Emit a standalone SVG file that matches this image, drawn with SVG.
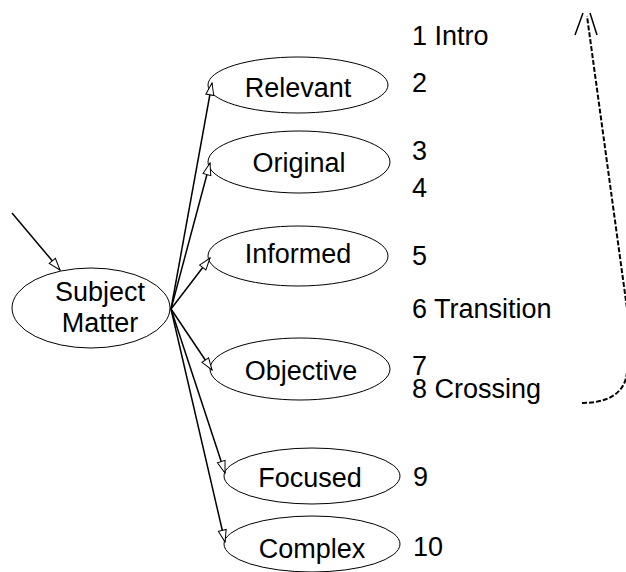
<svg xmlns="http://www.w3.org/2000/svg" width="626" height="572" viewBox="0 0 626 572">
<style>
.node ellipse{fill:#fff;stroke:#000;stroke-width:1}
text{font-family:"Liberation Sans",Arial,sans-serif;font-size:27px;fill:#000}
.c{text-anchor:middle}
.conn line{stroke:#000;stroke-width:1.5;marker-end:url(#ah)}
</style>
<defs>
<marker id="ah" markerUnits="userSpaceOnUse" markerWidth="14" markerHeight="10" refX="13" refY="5" orient="auto">
<path d="M1,1 L13,5 L1,9 Z" fill="#fff" stroke="#000" stroke-width="1"/>
</marker>
</defs>
<g id="subject" class="node"><ellipse cx="91" cy="308" rx="79" ry="40"/><text class="c" x="100" y="301">Subject</text><text class="c" x="100" y="332">Matter</text></g>
<g id="relevant" class="node"><ellipse cx="298" cy="85" rx="90" ry="28"/><text class="c" x="298" y="97">Relevant</text></g>
<g id="original" class="node"><ellipse cx="299" cy="162" rx="91" ry="31"/><text class="c" x="299" y="172">Original</text></g>
<g id="informed" class="node"><ellipse cx="298" cy="256" rx="90" ry="30"/><text class="c" x="298" y="263">Informed</text></g>
<g id="objective" class="node"><ellipse cx="300" cy="369" rx="90" ry="31"/><text class="c" x="301" y="380">Objective</text></g>
<g id="focused" class="node"><ellipse cx="312" cy="476" rx="88" ry="28"/><text class="c" x="310" y="487">Focused</text></g>
<g id="complex" class="node"><ellipse cx="312" cy="544" rx="88" ry="28"/><text class="c" x="312" y="558">Complex</text></g>
<g id="labels">
<text x="412" y="45">1 Intro</text>
<text x="412" y="92">2</text>
<text x="412" y="160">3</text>
<text x="412" y="197">4</text>
<text x="412" y="265">5</text>
<text x="412" y="318">6 Transition</text>
<text x="412" y="375">7</text>
<text x="412" y="398">8 Crossing</text>
<text x="413" y="486">9</text>
<text x="413" y="556">10</text>
</g>
<g id="connectors" class="conn">
<line x1="12" y1="213" x2="60" y2="270"/>
<line x1="171" y1="309" x2="212" y2="83"/>
<line x1="171" y1="309" x2="210" y2="163"/>
<line x1="171" y1="309" x2="210" y2="258"/>
<line x1="171" y1="309" x2="212" y2="370"/>
<line x1="171" y1="309" x2="225" y2="473"/>
<line x1="171" y1="309" x2="225" y2="542"/>
<path d="M582,403 C605,403 622,395 626,378 L632,345 L587,16" fill="none" stroke="#000" stroke-width="2" stroke-dasharray="5,2"/>
<path d="M575,35 L583,13 M590,13 L597,35" fill="none" stroke="#000" stroke-width="1.5"/>
</g>
</svg>
